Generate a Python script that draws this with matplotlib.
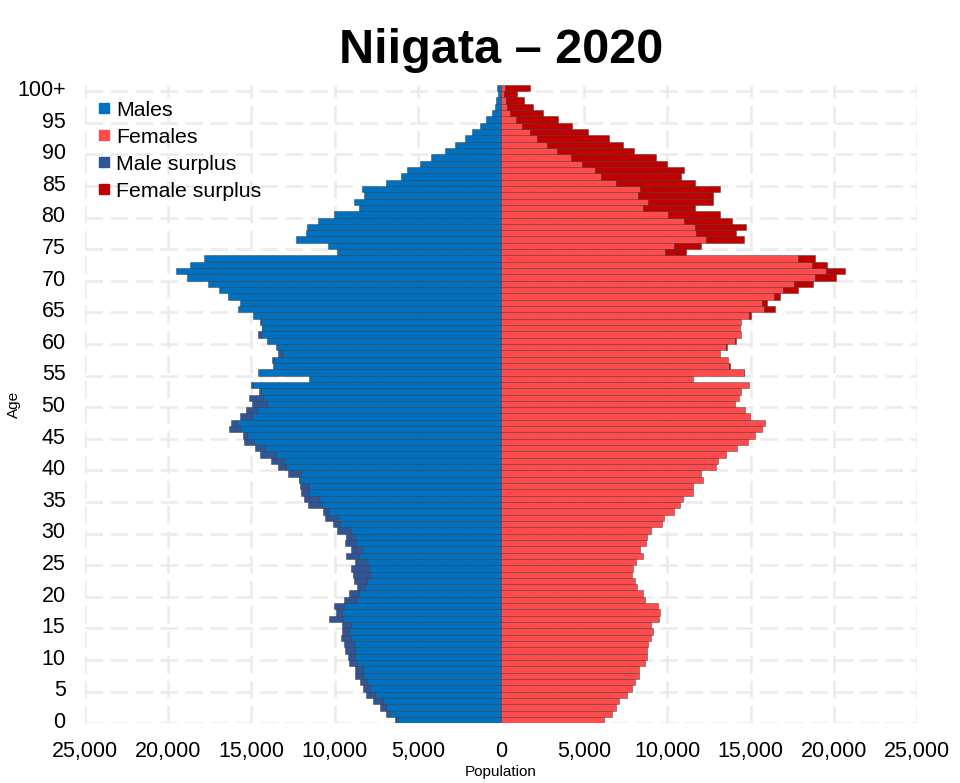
import matplotlib
matplotlib.use("Agg")
import matplotlib.pyplot as plt
from matplotlib.lines import Line2D
import numpy as np

plt.rcParams['font.family'] = ['Liberation Sans', 'DejaVu Sans']

# ==== Data (Niigata prefecture, 2020, single-year ages 0..100+) ====
ages = list(range(0, 101))

males = [
    6400, 6940, 7290, 7710, 8110, 8300, 8460, 8750, 8780, 9150,   # 0-9
    9180, 9360, 9460, 9610, 9580, 9530, 10350, 9930, 10030, 9450,  # 10-19
    9110, 8650, 8860, 8880, 9010, 8800, 9310, 8990, 9350, 9310,    # 20-29
    9830, 10070, 10580, 10710, 11570, 11830, 11990, 12100, 12150, 12830,  # 30-39
    13410, 13810, 14470, 14780, 15470, 15530, 16350, 16200, 15690, 15350,  # 40-49
    14950, 15130, 14570, 15040, 11550, 14590, 13710, 13750, 13410, 13510,  # 50-59
    14050, 14610, 14390, 14480, 14880, 15800, 15660, 16380, 16960, 17580,  # 60-69
    18880, 19520, 18660, 17820, 9850, 10410, 12310, 11710, 11650, 10970,   # 70-79
    10050, 8560, 8860, 8240, 8340, 6900, 6000, 5640, 4860, 4200,           # 80-89
    3390, 2790, 2190, 1730, 1290, 890, 530, 350, 290, 190,                 # 90-99
    250,                                                                   # 100+
]

females = [
    6200, 6680, 6940, 7120, 7560, 7880, 8040, 8320, 8320, 8670,    # 0-9
    8770, 8770, 8860, 8990, 9130, 9030, 9470, 9570, 9430, 8680,    # 10-19
    8520, 8180, 8080, 7870, 7950, 8120, 8560, 8330, 8740, 8790,    # 20-29
    9040, 9680, 9770, 10380, 10780, 10940, 11540, 11510, 12120, 12040,  # 30-39
    12940, 13050, 13540, 14210, 14830, 15280, 15710, 15840, 14950, 14690,  # 40-49
    14050, 14330, 14450, 14910, 11550, 14610, 13770, 13630, 13190, 13590,  # 50-59
    14130, 14410, 14380, 14450, 15040, 16440, 15970, 16780, 17840, 18780,  # 60-69
    20140, 20700, 19580, 18860, 11110, 12030, 14610, 14110, 14750, 13890,  # 70-79
    13190, 11630, 12770, 12770, 13170, 11630, 10810, 10970, 9990, 9330,    # 80-89
    7980, 7360, 6480, 5220, 4280, 3400, 2510, 1910, 1410, 970,             # 90-99
    1770,                                                                  # 100+
]

ytick_ages = list(range(0, 101, 5))
ytick_labels = [str(a) for a in ytick_ages[:-1]] + ["100+"]
xtick_values = list(range(-25000, 25001, 5000))

# ==== Colours ====
C_MALE = "#0070c0"
C_FEMALE = "#ff4b4b"
C_MALE_SURPLUS = "#2f5597"
C_FEMALE_SURPLUS = "#c00000"
EDGE = (0.15, 0.15, 0.15, 0.45)

# ==== Figure ====
fig = plt.figure(figsize=(9.6, 7.83), dpi=100)
ax = fig.add_axes([85 / 960, 1 - 723.2 / 783, 832 / 960, 638.4 / 783])

m = np.array(males, dtype=float)
f = np.array(females, dtype=float)
y = np.array(ages)
common = np.minimum(m, f)
m_extra = np.clip(m - f, 0, None)
f_extra = np.clip(f - m, 0, None)

bar_kw = dict(height=1.0, edgecolor=EDGE, linewidth=0.6, zorder=3)
ax.barh(y, -common, color=C_MALE, **bar_kw)
ax.barh(y, common, color=C_FEMALE, **bar_kw)
sel = m_extra > 0
ax.barh(y[sel], -m_extra[sel], left=-common[sel], color=C_MALE_SURPLUS, **bar_kw)
sel = f_extra > 0
ax.barh(y[sel], f_extra[sel], left=common[sel], color=C_FEMALE_SURPLUS, **bar_kw)

ax.set_xlim(-25000, 25000)
ax.set_ylim(-0.5, 100.5)

# grid lines: every 5,000 people and every 5 years of age
for xv in xtick_values:
    ax.axvline(xv, color="#ebebeb", linewidth=1.8, linestyle=(0, (7, 3)), zorder=1)
for a in np.arange(-0.5, 101, 5):
    ax.axhline(a, color="#ebebeb", linewidth=1.8, linestyle=(0, (7, 3)), zorder=1)

ax.set_xticks(xtick_values)
ax.set_xticklabels([f"{abs(v):,}" for v in xtick_values])
ax.set_yticks(ytick_ages)
ax.set_yticklabels(ytick_labels)
ax.tick_params(axis="both", length=0, labelsize=15.5)
ax.tick_params(axis="x", pad=13)
ax.tick_params(axis="y", pad=14)
for s in ax.spines.values():
    s.set_visible(False)

ax.set_xlabel("Population", fontsize=11, labelpad=2)
ax.set_ylabel("Age", fontsize=11)
ax.yaxis.set_label_coords(-0.077, 0.5)

fig.text(501.5 / 960, 1 - 63.3 / 783, "Niigata \u2013 2020", ha="center", va="baseline",
         fontsize=35, fontweight="bold")

handles = [
    Line2D([], [], marker="s", linestyle="", markersize=7.5, color=c, label=l)
    for c, l in [(C_MALE, "Males"), (C_FEMALE, "Females"),
                 (C_MALE_SURPLUS, "Male surplus"), (C_FEMALE_SURPLUS, "Female surplus")]
]
fig.legend(handles=handles, loc="upper left", bbox_to_anchor=(92 / 960, 1 - 100.5 / 783),
           frameon=False, fontsize=15.3, handletextpad=0.05, labelspacing=0.38,
           borderpad=0, borderaxespad=0, handlelength=1.1)

fig.savefig("out.png", dpi=100)
